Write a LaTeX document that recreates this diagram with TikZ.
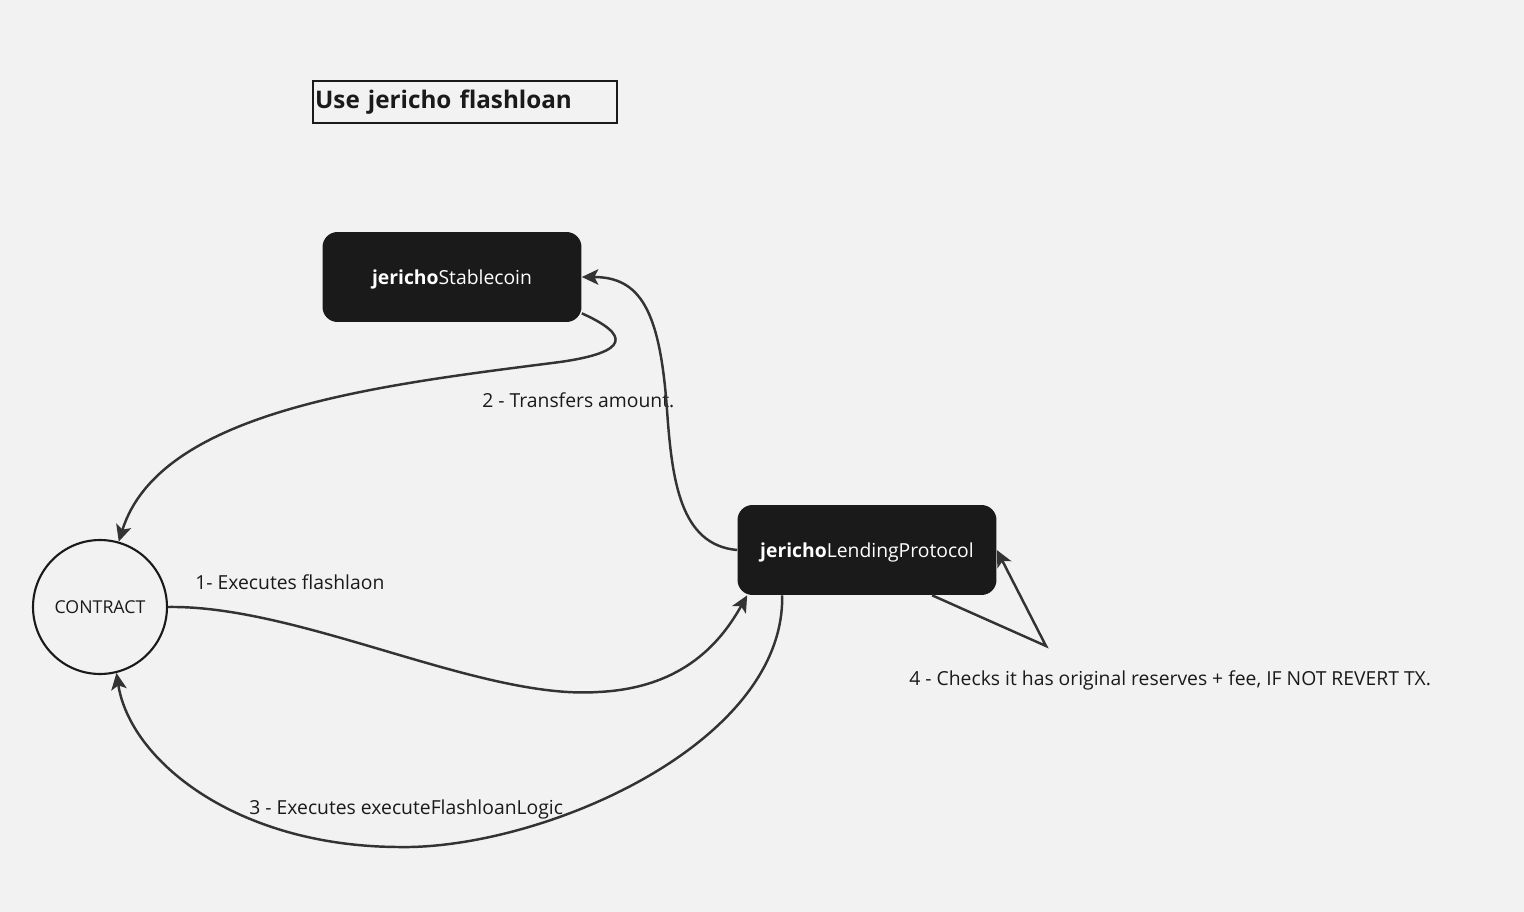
\documentclass[tikz,border=0pt]{standalone}
\usepackage{fontspec}
\setmainfont{Open Sans}
\usetikzlibrary{arrows.meta,positioning,calc}
\definecolor{Canvas}{HTML}{F2F2F2}
\definecolor{Ink}{HTML}{1A1A1A}
\definecolor{Wire}{HTML}{333333}

\begin{document}
\begin{tikzpicture}[x=0.02cm,y=-0.02cm,
  >={Stealth[length=0.33cm,width=0.31cm,inset=0.08cm]},
  every node/.style={font=\fontsize{11}{13}\selectfont,text=Ink},
  block/.style={fill=Ink,text=white,rounded corners=0.3cm,
    minimum width=5.18cm,minimum height=1.8cm,inner sep=0pt,text depth=0pt},
  flow/.style={draw=Wire,line width=1.4pt,->},
  msg/.style={anchor=west,inner sep=0pt,text depth=0pt}]
  \fill[Canvas] (0,0) rectangle (1524,912);
  \useasboundingbox (0,0) rectangle (1524,912);
  \node[draw=Ink,line width=1.3pt,anchor=north west,minimum height=0.84cm,
    text width=6.0cm,inner xsep=0.04cm,inner ysep=0pt,align=left,
    font=\fontsize{13.8}{16}\selectfont\bfseries] (title) at (312,80) {Use jericho flashloan};
  \node[block] (stablecoin) at (452,277) {\textbf{jericho}Stablecoin};
  \node[block] (lending) at (867,550) {\textbf{jericho}LendingProtocol};
  \node[circle,draw=Ink,line width=1.2pt,minimum size=2.68cm,inner sep=0pt,
    font=\fontsize{10.1}{12}\selectfont] (contract) at (100,607) {CONTRACT};
  % step labels
  \node[msg] (execute) at (195,582) {1- Executes flashlaon};
  \node[msg] (transfer) at (482,400) {2 - Transfers amount.};
  \node[msg] (callback) at (249,807) {3 - Executes executeFlashloanLogic};
  \node[msg] (check) at (909,678) {4 - Checks it has original reserves + fee, IF NOT REVERT TX.};
  % connectors
  \draw[flow] (contract.east) .. controls (300,605) and (480,700) .. (598,692)
    .. controls (685,688) and (722,640) .. ([xshift=0.2cm]lending.south west);
  \draw[flow] ([yshift=0.18cm]stablecoin.south east) .. controls (630,335) and (630,352) .. (560,362)
    .. controls (380,385) and (160,410) .. (contract.74);
  \draw[flow] (lending.west) .. controls (680,545) and (672,480) .. (667,410)
    .. controls (660,310) and (640,277) .. (stablecoin.east);
  \draw[flow] ([xshift=0.9cm]lending.south west) .. controls (785,745) and (540,850) .. (398,847)
    .. controls (235,846) and (130,760) .. (contract.-76);
  \coordinate (turn) at (1046,646);
  \draw[flow] ([xshift=3.9cm]lending.south west) -- (turn) -- (lending.east);
\end{tikzpicture}
\end{document}
